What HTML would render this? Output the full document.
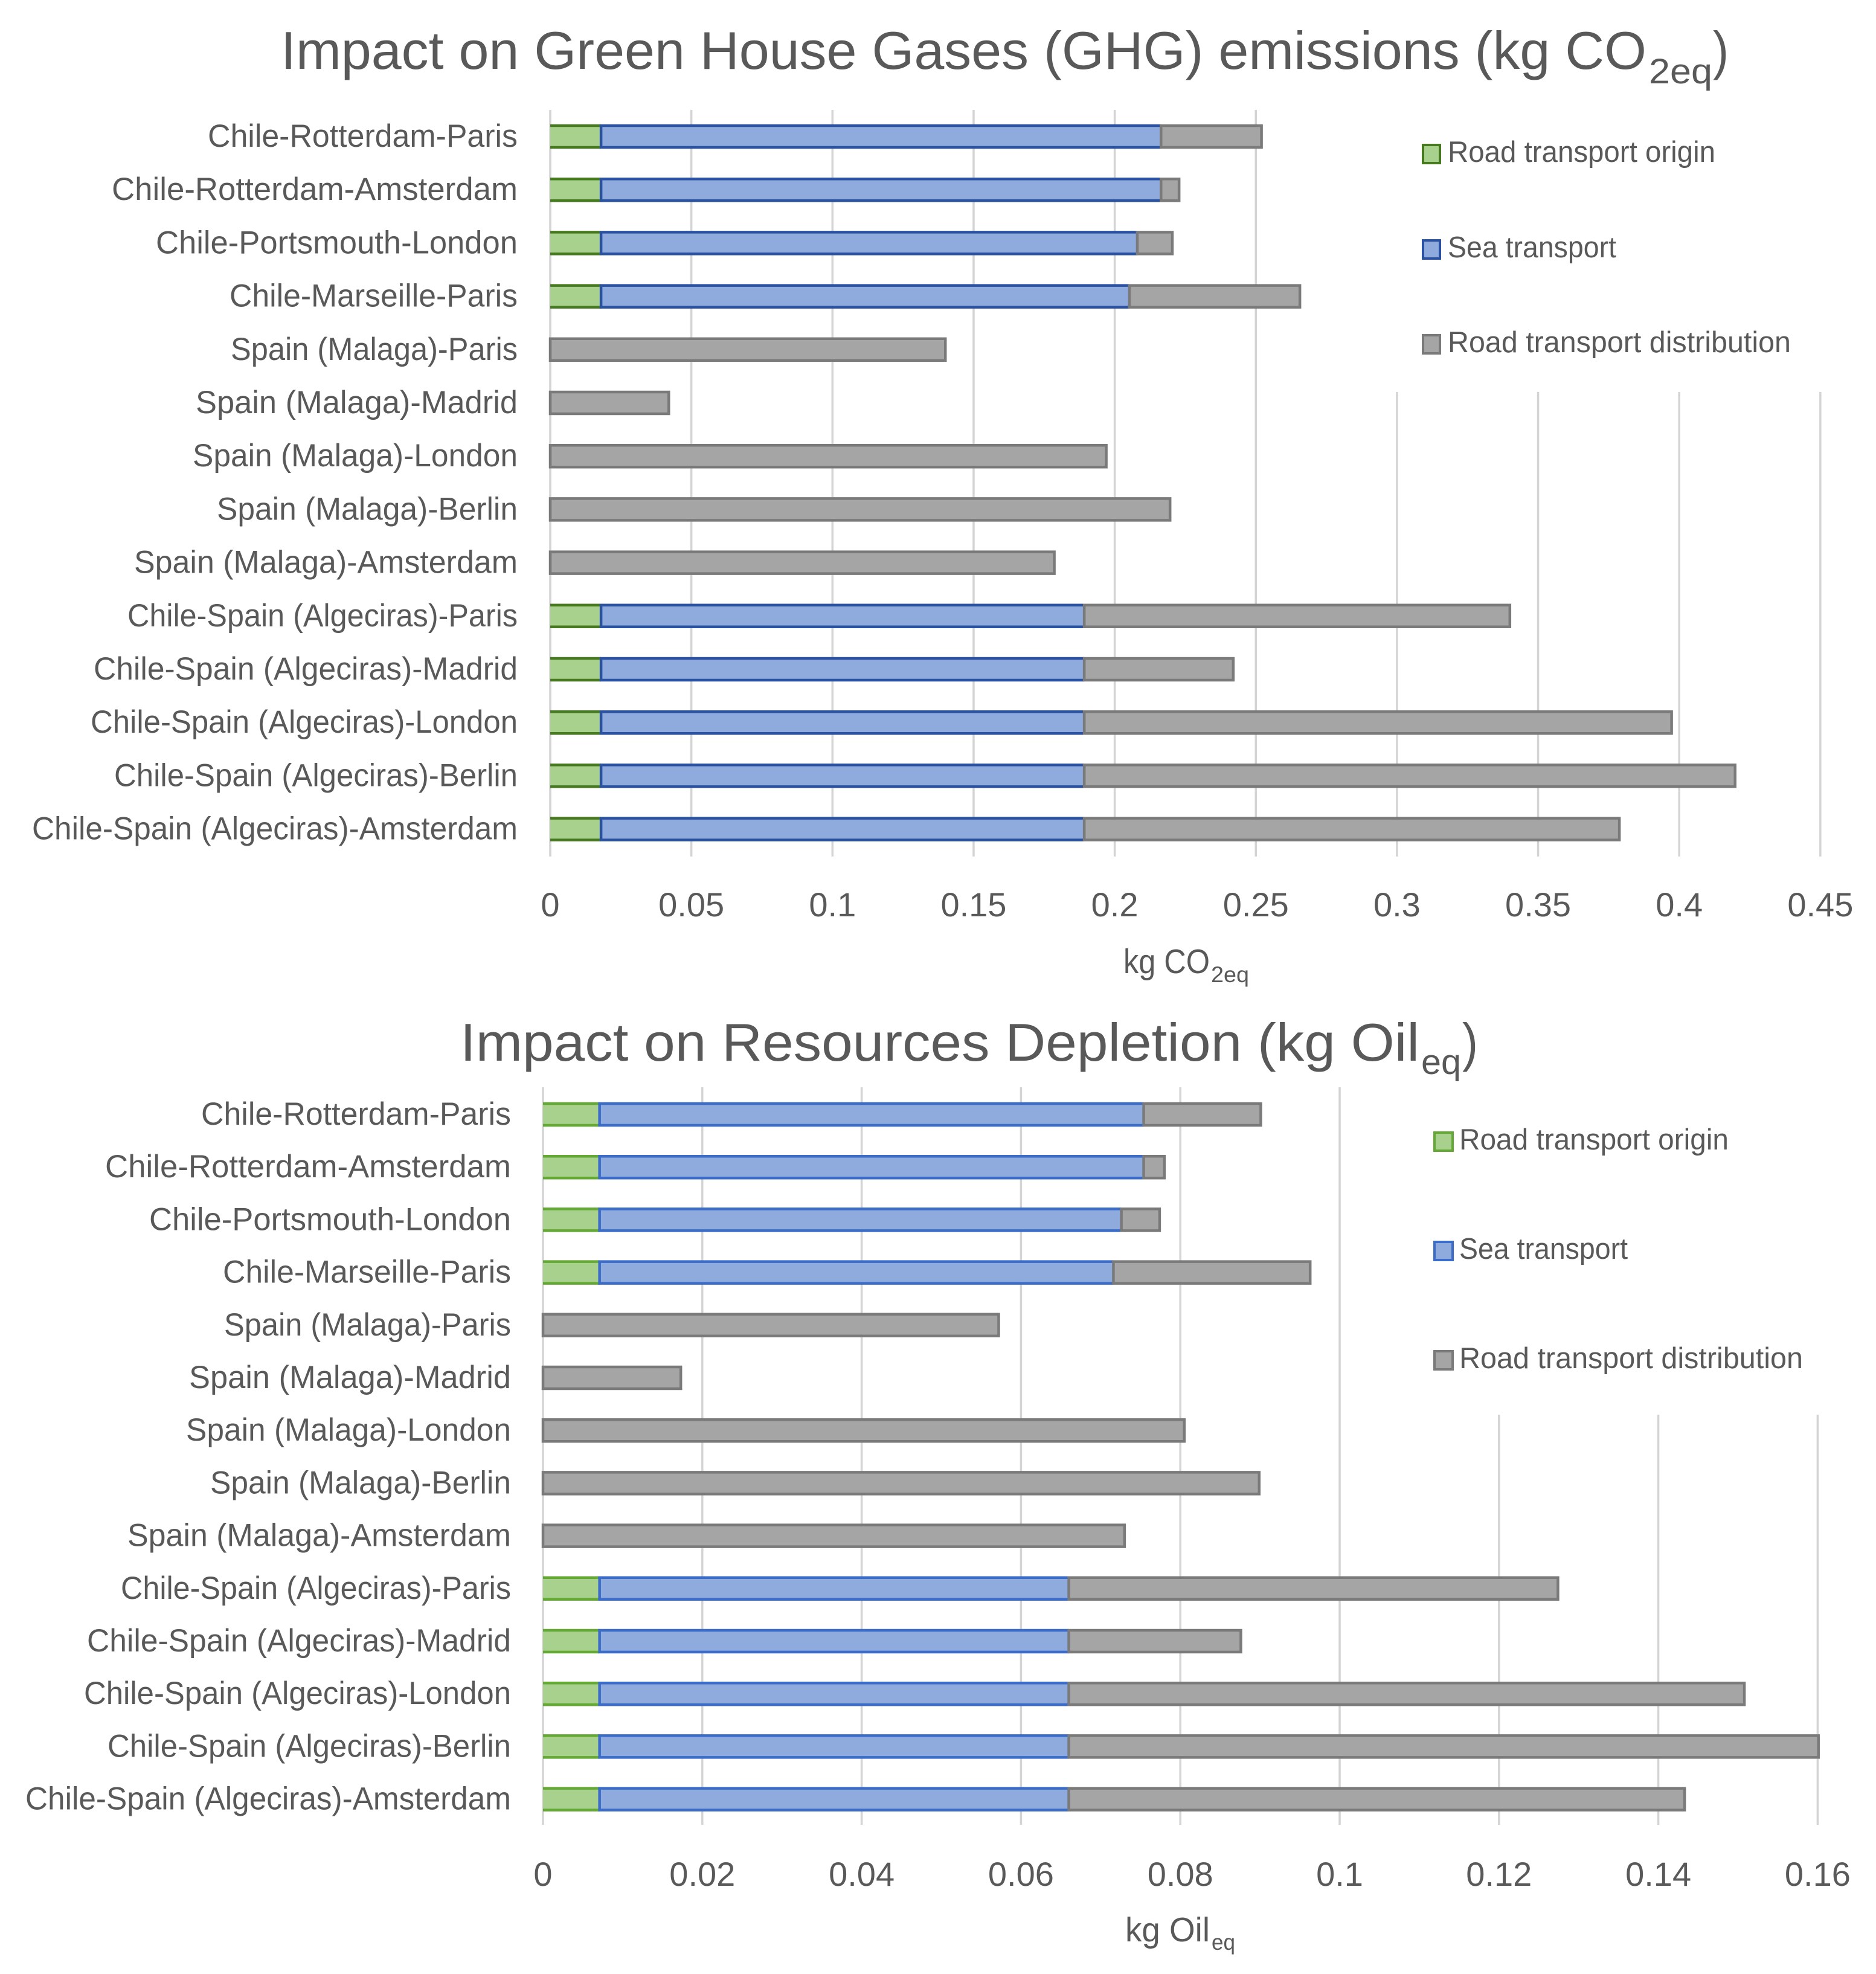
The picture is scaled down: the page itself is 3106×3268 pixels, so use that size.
<!DOCTYPE html>
<html lang="en">
<head>
<meta charset="utf-8">
<title>Impact on GHG emissions and Resources Depletion</title>
<style>
html,body{margin:0;padding:0;background:#fff;}
body{width:3106px;height:3268px;overflow:hidden;}
svg{display:block;}
text{font-family:"Liberation Sans",sans-serif;fill:#595959;}
</style>
</head>
<body>
<svg id="figure" xmlns="http://www.w3.org/2000/svg" width="3106" height="3268" viewBox="0 0 3106 3268">
  <rect x="0" y="0" width="3106" height="3268" fill="#ffffff"/>
  <g id="chart-ghg"></g>
  <g id="chart-oil"></g>

  <g>
    <text x="465" y="114" font-size="88" textLength="2261" lengthAdjust="spacingAndGlyphs">Impact on Green House Gases (GHG) emissions (kg CO</text>
    <text x="2730" y="138" font-size="58" textLength="105" lengthAdjust="spacingAndGlyphs">2eq</text>
    <text x="2836" y="114" font-size="88" textLength="26" lengthAdjust="spacingAndGlyphs">)</text>
  </g>
  <g>
    <text x="1860" y="1611" font-size="57" textLength="143" lengthAdjust="spacingAndGlyphs">kg CO</text>
    <text x="2005" y="1626" font-size="37" textLength="63" lengthAdjust="spacingAndGlyphs">2eq</text>
  </g>

  <g>
    <text x="762" y="1756" font-size="88" textLength="1588" lengthAdjust="spacingAndGlyphs">Impact on Resources Depletion (kg Oil</text>
    <text x="2353" y="1778" font-size="58" textLength="66" lengthAdjust="spacingAndGlyphs">eq</text>
    <text x="2421" y="1756" font-size="88" textLength="26" lengthAdjust="spacingAndGlyphs">)</text>
  </g>
  <g>
    <text x="1863" y="3214" font-size="57" textLength="140" lengthAdjust="spacingAndGlyphs">kg Oil</text>
    <text x="2006" y="3228" font-size="37" textLength="39" lengthAdjust="spacingAndGlyphs">eq</text>
  </g>
</svg>

<script>
const categories = [
  "Chile-Rotterdam-Paris",
  "Chile-Rotterdam-Amsterdam",
  "Chile-Portsmouth-London",
  "Chile-Marseille-Paris",
  "Spain (Malaga)-Paris",
  "Spain (Malaga)-Madrid",
  "Spain (Malaga)-London",
  "Spain (Malaga)-Berlin",
  "Spain (Malaga)-Amsterdam",
  "Chile-Spain (Algeciras)-Paris",
  "Chile-Spain (Algeciras)-Madrid",
  "Chile-Spain (Algeciras)-London",
  "Chile-Spain (Algeciras)-Berlin",
  "Chile-Spain (Algeciras)-Amsterdam"
];
const seriesNames = ["Road transport origin", "Sea transport", "Road transport distribution"];

const ghgOrigin = [0.018, 0.018, 0.018, 0.018, 0, 0, 0, 0, 0, 0.018, 0.018, 0.018, 0.018, 0.018];
const ghgSea = [0.1984, 0.1984, 0.19, 0.1872, 0, 0, 0, 0, 0, 0.1712, 0.1712, 0.1712, 0.1712, 0.1712];
const ghgDistribution = [0.0356, 0.0064, 0.0124, 0.0604, 0.14, 0.042, 0.197, 0.2196, 0.1786, 0.1508, 0.0528, 0.2081, 0.2306, 0.1896];
const ghgTickLabels = ["0", "0.05", "0.1", "0.15", "0.2", "0.25", "0.3", "0.35", "0.4", "0.45"];

const oilOrigin = [0.0071, 0.0071, 0.0071, 0.0071, 0, 0, 0, 0, 0, 0.0071, 0.0071, 0.0071, 0.0071, 0.0071];
const oilSea = [0.0683, 0.0683, 0.0655, 0.0645, 0, 0, 0, 0, 0, 0.0589, 0.0589, 0.0589, 0.0589, 0.0589];
const oilDistribution = [0.0147, 0.0026, 0.0048, 0.0247, 0.0572, 0.0173, 0.0805, 0.0899, 0.073, 0.0614, 0.0216, 0.0848, 0.0941, 0.0773];
const oilTickLabels = ["0", "0.02", "0.04", "0.06", "0.08", "0.1", "0.12", "0.14", "0.16"];

const SVG_NS = "http://www.w3.org/2000/svg";

function svgEl(parent, tag, attrs) {
  const el = document.createElementNS(SVG_NS, tag);
  Object.keys(attrs).forEach(function (k) { el.setAttribute(k, attrs[k]); });
  parent.appendChild(el);
  return el;
}

function fitText(el, width) {
  el.setAttribute("textLength", width);
  el.setAttribute("lengthAdjust", "spacingAndGlyphs");
}

function drawChart(root, series, tickLabels, layout) {
  const xScale = function (v) { return layout.x0 + v * layout.pxPerUnit; };
  const yCenter = function (i) { return layout.yFirst + i * layout.pitch; };

  // gridlines
  tickLabels.forEach(function (label) {
    const gx = xScale(parseFloat(label));
    const line = svgEl(root, "line", { x1: gx, x2: gx, y1: layout.gridTop, y2: layout.gridBottom, stroke: "#d4d4d4", "stroke-width": 3.5 });
    
    
    const tick = svgEl(root, "text", { x: gx, y: layout.tickBaseline, "font-size": 56, "text-anchor": "middle" });
    tick.textContent = label;
    
    
  });

  // white legend panel masks the upper right gridlines
  const panel = svgEl(root, "rect", { x: layout.panelX, y: layout.gridTop - 4, width: 3106 - layout.panelX, height: layout.panelBottom - layout.gridTop + 4, fill: "#ffffff" });
  
  

  // category labels and stacked bars
  categories.forEach(function (name, i) {
    const cy = yCenter(i);
    const label = svgEl(root, "text", { x: layout.labelRight, y: cy + 17, "font-size": 53, "text-anchor": "end" });
    label.textContent = name;
    fitText(label, layout.labelFit[i]);
    
    

    let cumulative = 0;
    const top = cy - layout.barHeight / 2;
    const bottom = cy + layout.barHeight / 2;
    series.forEach(function (values, s) {
      const v = values[i];
      if (!v) { return; }
      const xa = xScale(cumulative);
      const xb = xScale(cumulative + v);
      cumulative += v;
      const fillRect = svgEl(root, "rect", { x: xa, y: top, width: xb - xa, height: bottom - top, fill: layout.fills[s] });
      
      
      let d;
      if (s === 0) {
        d = "M" + xa + " " + top + "H" + xb + "M" + xa + " " + bottom + "H" + xb;
      } else if (s === 1) {
        d = "M" + xb + " " + top + "H" + xa + "V" + bottom + "H" + xb;
      } else {
        d = "M" + xa + " " + top + "H" + xb + "V" + bottom + "H" + xa + "Z";
      }
      const edge = svgEl(root, "path", { d: d, fill: "none", stroke: layout.strokes[s], "stroke-width": 4.5 });
      
      
    });
  });

  // legend
  seriesNames.forEach(function (name, s) {
    const ly = layout.legendY[s];
    const swatch = svgEl(root, "rect", { x: layout.swatchX, y: ly - 15, width: layout.swatchSize, height: 30, fill: layout.fills[s], stroke: layout.strokes[s], "stroke-width": 4 });
    
    
    const text = svgEl(root, "text", { x: layout.legendTextX, y: ly + 13, "font-size": 49 });
    text.textContent = name;
    fitText(text, layout.legendFit[s]);
    
    
  });
}

drawChart(
  document.getElementById("chart-ghg"),
  [ghgOrigin, ghgSea, ghgDistribution], ghgTickLabels,
  {
    x0: 911, pxPerUnit: 4673,
    yFirst: 226, pitch: 88.2, barHeight: 36,
    gridTop: 182, gridBottom: 1418, tickBaseline: 1517,
    labelRight: 857, panelX: 2200, panelBottom: 649,
    labelFit: [513, 672, 599, 477, 475, 533, 538, 498, 635, 646, 702, 707, 668, 804],
    legendFit: [443, 279, 568],
    fills: ["#a9d18e", "#8faadc", "#a5a5a5"],
    strokes: ["#477a20", "#2a52a0", "#7a7a7a"],
    legendY: [255, 413, 570], swatchX: 2356, swatchSize: 28, legendTextX: 2397
  }
);

drawChart(
  document.getElementById("chart-oil"),
  [oilOrigin, oilSea, oilDistribution], oilTickLabels,
  {
    x0: 899, pxPerUnit: 13190,
    yFirst: 1845, pitch: 87.2, barHeight: 36,
    gridTop: 1800, gridBottom: 3021, tickBaseline: 3122,
    labelRight: 846, panelX: 2300, panelBottom: 2342,
    labelFit: [513, 672, 599, 477, 475, 533, 538, 498, 635, 646, 702, 707, 668, 804],
    legendFit: [446, 279, 569],
    fills: ["#a9d18e", "#8faadc", "#a5a5a5"],
    strokes: ["#64a934", "#3a6cc8", "#7a7a7a"],
    legendY: [1890, 2071, 2252], swatchX: 2375, swatchSize: 30, legendTextX: 2416
  }
);
</script>
</body>
</html>
